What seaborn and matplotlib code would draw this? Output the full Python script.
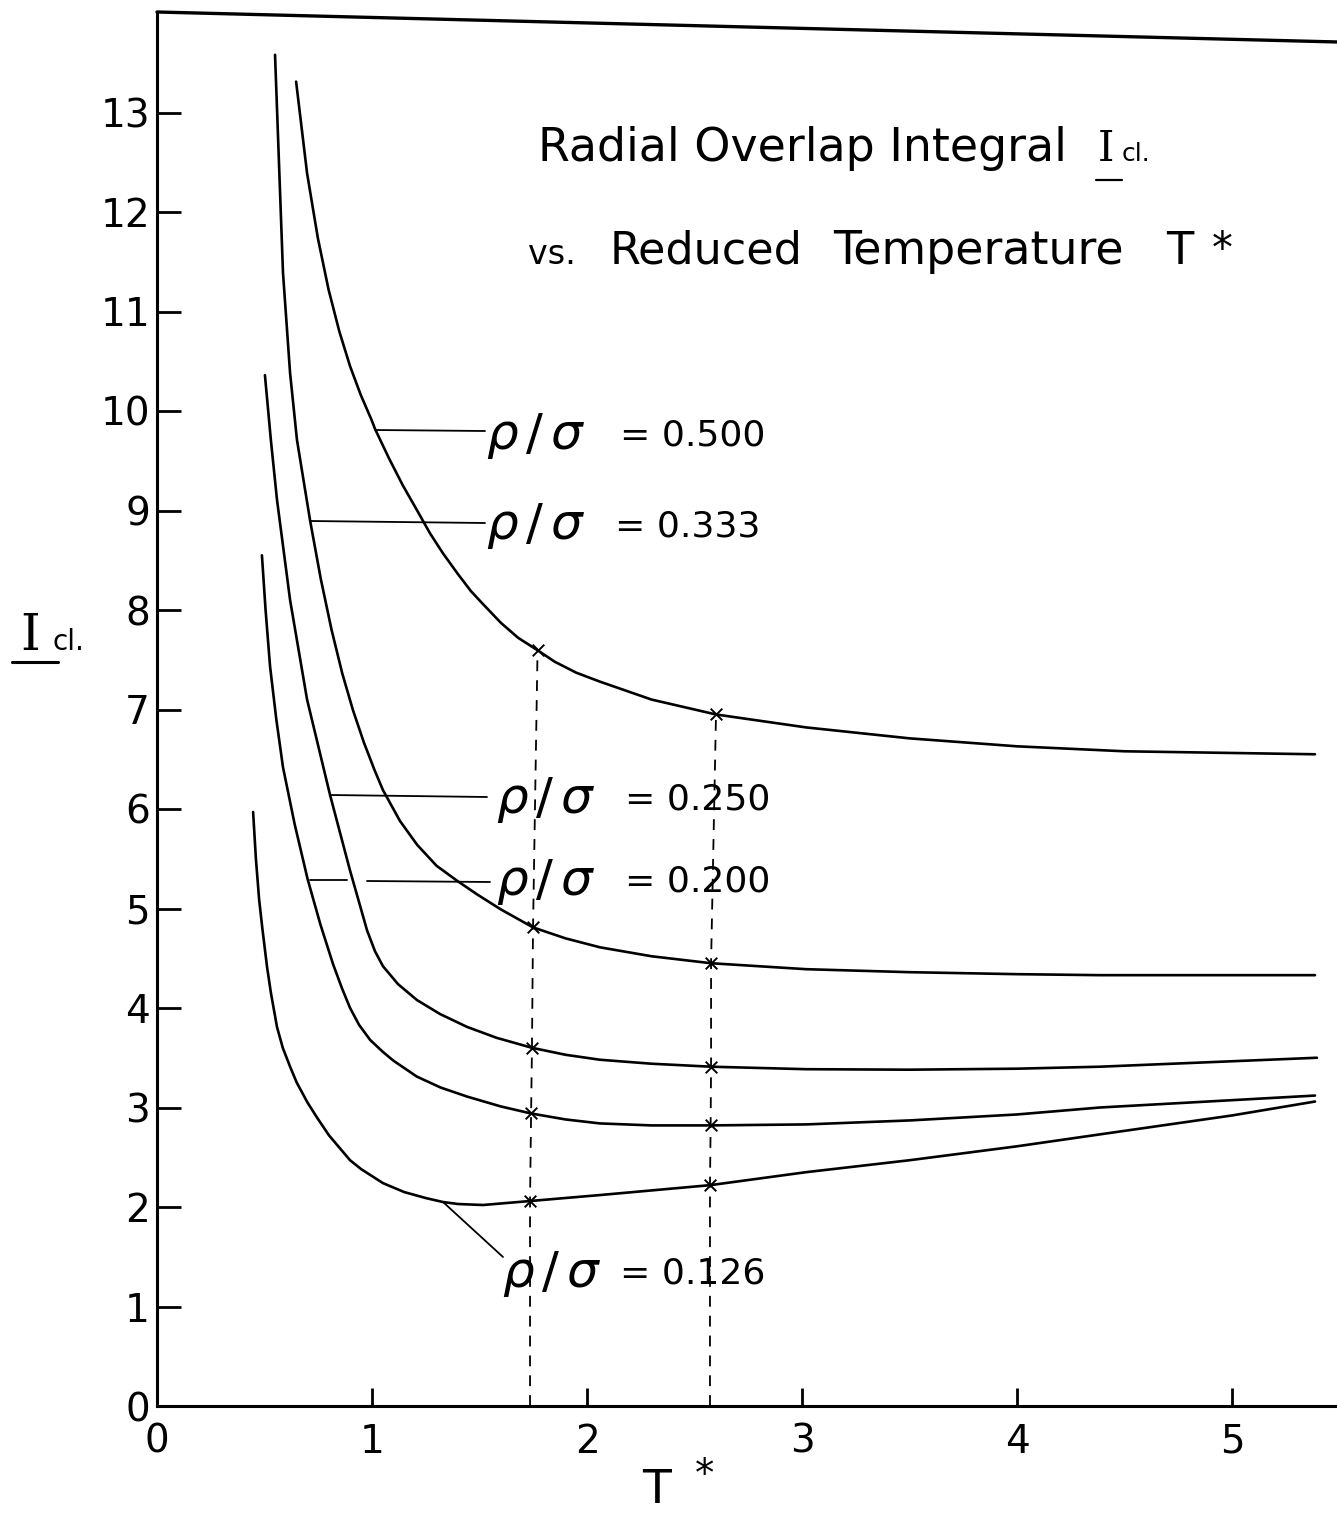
import numpy as np
import pandas as pd
import matplotlib
matplotlib.use("Agg")
import matplotlib.pyplot as plt
import seaborn as sns
from matplotlib.lines import Line2D

# ---------------- data ----------------
rho_labels = ["0.500", "0.333", "0.250", "0.200", "0.126"]

t_500 = [0.647, 0.698, 0.748, 0.798, 0.848, 0.898, 0.948, 0.998, 1.014, 1.080, 1.144, 1.210, 1.270,
         1.330, 1.400, 1.460, 1.516, 1.600, 1.680, 1.767, 1.850, 1.950, 2.060, 2.300, 2.600, 3.019,
         3.500, 4.000, 4.500, 5.386]
i_500 = [13.31, 12.39, 11.74, 11.22, 10.80, 10.45, 10.16, 9.91, 9.82, 9.52, 9.25, 9.00, 8.77,
         8.57, 8.36, 8.19, 8.06, 7.87, 7.72, 7.60, 7.48, 7.37, 7.28, 7.10, 6.95, 6.82,
         6.71, 6.63, 6.58, 6.55]

t_333 = [0.549, 0.586, 0.619, 0.651, 0.712, 0.762, 0.812, 0.862, 0.912, 0.962, 1.012, 1.051, 1.130,
         1.210, 1.300, 1.395, 1.490, 1.600, 1.749, 1.900, 2.060, 2.300, 2.577, 3.019, 3.500, 4.000,
         4.386, 5.386]
i_333 = [13.58, 11.39, 10.38, 9.71, 8.90, 8.31, 7.80, 7.36, 6.99, 6.67, 6.39, 6.19, 5.88,
         5.64, 5.43, 5.28, 5.14, 4.99, 4.81, 4.70, 4.61, 4.52, 4.45, 4.39, 4.36, 4.34,
         4.33, 4.33]

t_250 = [0.502, 0.530, 0.558, 0.619, 0.698, 0.805, 0.898, 0.935, 0.977, 1.014, 1.051, 1.121, 1.209,
         1.316, 1.442, 1.580, 1.744, 1.900, 2.060, 2.300, 2.577, 3.019, 3.500, 4.000, 4.386, 5.395]
i_250 = [10.36, 9.70, 9.11, 8.10, 7.10, 6.14, 5.38, 5.10, 4.78, 4.57, 4.42, 4.24, 4.08,
         3.94, 3.81, 3.70, 3.60, 3.53, 3.48, 3.44, 3.41, 3.385, 3.38, 3.39, 3.41, 3.50]

t_200 = [0.488, 0.505, 0.526, 0.555, 0.586, 0.640, 0.700, 0.726, 0.760, 0.819, 0.860, 0.898, 0.940,
         0.991, 1.050, 1.100, 1.209, 1.320, 1.442, 1.600, 1.740, 1.900, 2.060, 2.300, 2.575, 3.019,
         3.500, 4.000, 4.386, 5.386]
i_200 = [8.55, 8.00, 7.43, 6.90, 6.42, 5.85, 5.30, 5.10, 4.84, 4.44, 4.20, 4.00, 3.83,
         3.68, 3.56, 3.47, 3.31, 3.20, 3.11, 3.01, 2.94, 2.88, 2.84, 2.82, 2.82, 2.83,
         2.87, 2.93, 3.00, 3.12]

t_126 = [0.447, 0.460, 0.475, 0.490, 0.512, 0.530, 0.558, 0.585, 0.619, 0.650, 0.700, 0.744, 0.800,
         0.898, 0.950, 1.051, 1.150, 1.250, 1.330, 1.400, 1.516, 1.735, 2.060, 2.575, 3.019, 3.500,
         4.000, 4.386, 5.000, 5.386]
i_126 = [5.97, 5.50, 5.09, 4.80, 4.41, 4.15, 3.81, 3.60, 3.41, 3.25, 3.05, 2.90, 2.72,
         2.47, 2.38, 2.24, 2.15, 2.09, 2.05, 2.03, 2.02, 2.06, 2.12, 2.22, 2.35, 2.47,
         2.61, 2.73, 2.92, 3.06]

# marked points (x) on the two dashed verticals, order as rho_labels
mark1_t = [1.770, 1.749, 1.744, 1.740, 1.735]
mark1_i = [7.60, 4.81, 3.60, 2.94, 2.06]
mark2_t = [2.600, 2.577, 2.577, 2.575, 2.572]
mark2_i = [6.95, 4.45, 3.41, 2.82, 2.22]

x_ticks = [0, 1, 2, 3, 4, 5]
y_ticks = list(range(0, 14))

# ---------------- build tables ----------------
curves = {"0.500": (t_500, i_500), "0.333": (t_333, i_333), "0.250": (t_250, i_250),
          "0.200": (t_200, i_200), "0.126": (t_126, i_126)}
df = pd.concat([pd.DataFrame({"T": t, "I": i, "rho": k})
                for k, (t, i) in curves.items()], ignore_index=True)
marks = pd.DataFrame({"T": mark1_t + mark2_t, "I": mark1_i + mark2_i})

# ---------------- style ----------------
sns.set_theme(style="ticks")
plt.rcParams["font.family"] = ["DejaVu Sans"]
plt.rcParams["mathtext.fontset"] = "dejavusans"
plt.rcParams["text.color"] = "black"
plt.rcParams["xtick.color"] = "black"
plt.rcParams["ytick.color"] = "black"

W, H = 1337, 1514
X0, Y0, SX, SY = 157, 1406, 215.0, 99.5   # pixel placement helpers for annotations


def dx(px):
    return (px - X0) / SX


def dy(py):
    return (Y0 - py) / SY


fig = plt.figure(figsize=(W / 100, H / 100), dpi=100)
fig.patch.set_facecolor("white")
ax = fig.add_axes([X0 / W, (H - Y0) / H, 1 - X0 / W, (Y0 - 12) / H])
ax.set_facecolor("white")

sns.lineplot(data=df, x="T", y="I", hue="rho", units="rho", estimator=None, sort=False,
             palette={k: "black" for k in rho_labels}, linewidth=1.9, legend=False, ax=ax)
sns.scatterplot(data=marks, x="T", y="I", marker="x", color="black", s=70,
                linewidth=1.4, legend=False, ax=ax, zorder=5)

# dashed verticals through the marked points down to the axis
for mt, mi in [(mark1_t, mark1_i), (mark2_t, mark2_i)]:
    xs = [mt[-1]] + list(mt[::-1])
    ys = [0] + list(mi[::-1])
    ax.plot(xs, ys, color="black", lw=1.3, ls=(0, (6, 5)), zorder=3)

ax.set_xlim(0, (W - X0) / SX)
ax.set_ylim(0, (Y0 - 12) / SY)
ax.set_xticks(x_ticks)
ax.set_yticks(y_ticks)
ax.set_xticklabels([str(v) for v in x_ticks])
ax.set_yticklabels([str(v) for v in y_ticks])
ax.tick_params(axis="y", direction="in", length=17, width=2.0, labelsize=28, pad=5)
ax.tick_params(axis="x", direction="in", length=13, width=2.0, labelsize=28, pad=12)
ax.set_xlabel("")
ax.set_ylabel("")
for s in ["top", "right"]:
    ax.spines[s].set_visible(False)
for s in ["left", "bottom"]:
    ax.spines[s].set_linewidth(2.2)
    ax.spines[s].set_color("black")

# top frame line (slightly slanted as in the scan)
ax.plot([0, 1], [1.0, 0.9785], transform=ax.transAxes, clip_on=False, color="black", lw=2.4)

# ---------------- title text ----------------
ax.text(dx(538), dy(161), "Radial Overlap Integral", fontsize=33, ha="left", va="baseline")
ax.text(dx(1098), dy(161), "I", fontsize=30, ha="left", va="baseline", family="DejaVu Serif")
ax.text(dx(1122), dy(161), "cl.", fontsize=18, ha="left", va="baseline")
ax.plot([dx(1096), dx(1122)], [dy(180), dy(180)], color="black", lw=1.6)

ax.text(dx(528), dy(264), "vs.", fontsize=24, ha="left", va="baseline")
ax.text(dx(610), dy(264), "Reduced", fontsize=32, ha="left", va="baseline")
ax.text(dx(833), dy(264), "Temperature", fontsize=33, ha="left", va="baseline")
ax.text(dx(1166), dy(264), "T", fontsize=32, ha="left", va="baseline")
ax.text(dx(1212), dy(262), "*", fontsize=30, ha="left", va="baseline")

# ---------------- curve labels with leader lines ----------------
label_pos = {"0.500": (486, 620, 436), "0.333": (486, 615, 526), "0.250": (496, 625, 800),
             "0.200": (496, 625, 882), "0.126": (502, 620, 1274)}
for k in rho_labels:
    p_rho, p_eq, p_y = label_pos[k]
    ax.text(dx(p_rho), dy(p_y), r"$\rho\,/\,\sigma$", fontsize=36, ha="left", va="center")
    ax.text(dx(p_eq), dy(p_y), "= " + k, fontsize=26, ha="left", va="center")

leader_kw = dict(color="black", lw=1.3)
ax.plot([dx(375), dx(485)], [dy(430), dy(431)], **leader_kw)
ax.plot([dx(310), dx(485)], [dy(521), dy(523)], **leader_kw)
ax.plot([dx(330), dx(487)], [dy(795), dy(797)], **leader_kw)
ax.plot([dx(310), dx(347)], [dy(880), dy(880)], **leader_kw)
ax.plot([dx(367), dx(490)], [dy(881), dy(882)], **leader_kw)
ax.plot([dx(443), dx(503)], [dy(1202), dy(1257)], **leader_kw)

# ---------------- axis labels ----------------
fig.text(20 / W, 1 - 650 / H, "I", fontsize=36, family="DejaVu Serif", ha="left", va="baseline")
fig.text(52 / W, 1 - 650 / H, "cl.", fontsize=20, ha="left", va="baseline")
fig.add_artist(Line2D([12 / W, 58 / W], [1 - 662 / H, 1 - 662 / H], color="black", lw=2.2))

fig.text(657 / W, 1 - 1468 / H, "T", fontsize=34, ha="center", va="top")
fig.text(705 / W, 1 - 1456 / H, "*", fontsize=28, ha="center", va="top")

fig.savefig("out.png", dpi=100, facecolor="white")
